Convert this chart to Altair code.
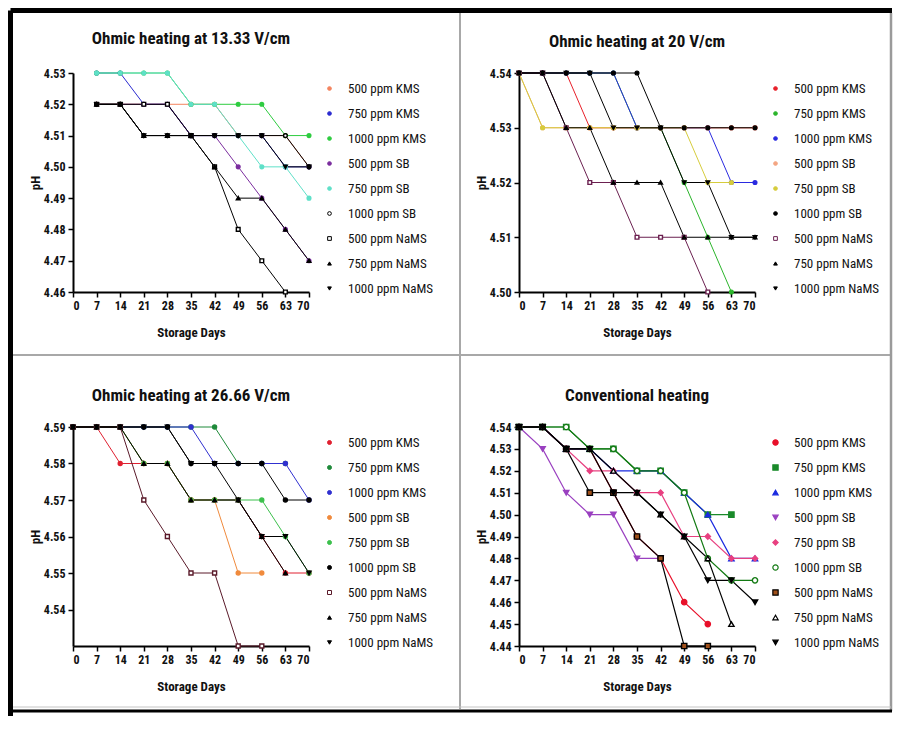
import altair as alt
import pandas as pd

FONT = "Liberation Sans Narrow, Arial Narrow, Roboto Condensed, DejaVu Sans Condensed, Roboto, sans-serif"

DAYS = [0, 7, 14, 21, 28, 35, 42, 49, 56, 63, 70]
SERIES = ["500 ppm KMS", "750 ppm KMS", "1000 ppm KMS", "500 ppm SB", "750 ppm SB",
          "1000 ppm SB", "500 ppm NaMS", "750 ppm NaMS", "1000 ppm NaMS"]
N = None

# Ohmic heating at 13.33 V/cm
oh13_kms500 = [N, 4.52, 4.52, 4.52, 4.52, 4.52, 4.52, 4.51, 4.51, 4.51, 4.50]
oh13_kms750 = [N, 4.53, 4.53, 4.52, 4.52, 4.51, 4.51, 4.51, 4.51, 4.50, 4.50]
oh13_kms1000 = [N, 4.53, 4.53, 4.53, 4.53, 4.52, 4.52, 4.52, 4.52, 4.51, 4.51]
oh13_sb500 = [N, 4.52, 4.52, 4.52, 4.52, 4.51, 4.51, 4.50, 4.49, 4.48, 4.47]
oh13_sb750 = [N, 4.53, 4.53, 4.53, 4.53, 4.52, 4.52, 4.51, 4.50, 4.50, 4.49]
oh13_sb1000 = [N, 4.52, 4.52, 4.51, 4.51, 4.51, 4.51, 4.51, 4.51, 4.51, 4.50]
oh13_nams500 = [N, 4.52, 4.52, 4.52, 4.52, 4.51, 4.50, 4.48, 4.47, 4.46, N]
oh13_nams750 = [N, 4.52, 4.52, 4.51, 4.51, 4.51, 4.50, 4.49, 4.49, 4.48, 4.47]
oh13_nams1000 = [N, 4.52, 4.52, 4.51, 4.51, 4.51, 4.51, 4.51, 4.51, 4.50, 4.50]

# Ohmic heating at 20 V/cm
oh20_kms500 = [4.54, 4.54, 4.54, 4.53, 4.53, 4.53, 4.53, 4.53, 4.53, 4.53, 4.53]
oh20_kms750 = [4.54, 4.54, 4.54, 4.54, 4.54, 4.53, 4.53, 4.52, 4.51, 4.50, N]
oh20_kms1000 = [4.54, 4.54, 4.54, 4.54, 4.54, 4.53, 4.53, 4.53, 4.53, 4.52, 4.52]
oh20_sb500 = [4.54, 4.53, 4.53, 4.53, 4.53, 4.53, 4.53, 4.53, 4.53, 4.53, 4.53]
oh20_sb750 = [4.54, 4.53, 4.53, 4.53, 4.53, 4.53, 4.53, 4.53, 4.52, 4.52, N]
oh20_sb1000 = [4.54, 4.54, 4.54, 4.54, 4.54, 4.54, 4.53, 4.53, 4.53, 4.53, 4.53]
oh20_nams500 = [4.54, 4.54, 4.53, 4.52, 4.52, 4.51, 4.51, 4.51, 4.50, N, N]
oh20_nams750 = [4.54, 4.54, 4.53, 4.53, 4.52, 4.52, 4.52, 4.51, 4.51, 4.51, 4.51]
oh20_nams1000 = [4.54, 4.54, 4.54, 4.54, 4.53, 4.53, 4.53, 4.52, 4.52, 4.51, 4.51]

# Ohmic heating at 26.66 V/cm
oh26_kms500 = [4.59, 4.59, 4.58, 4.58, 4.58, 4.57, 4.57, 4.57, 4.56, 4.55, 4.55]
oh26_kms750 = [4.59, 4.59, 4.59, 4.59, 4.59, 4.59, 4.59, 4.58, 4.58, 4.58, N]
oh26_kms1000 = [4.59, 4.59, 4.59, 4.59, 4.59, 4.59, 4.58, 4.58, 4.58, 4.58, 4.57]
oh26_sb500 = [4.59, 4.59, 4.59, 4.58, 4.58, 4.57, 4.57, 4.55, 4.55, N, N]
oh26_sb750 = [4.59, 4.59, 4.59, 4.58, 4.58, 4.57, 4.57, 4.57, 4.57, 4.56, 4.55]
oh26_sb1000 = [4.59, 4.59, 4.59, 4.59, 4.59, 4.58, 4.58, 4.58, 4.58, 4.57, 4.57]
oh26_nams500 = [4.59, 4.59, 4.59, 4.57, 4.56, 4.55, 4.55, 4.53, 4.53, N, N]
oh26_nams750 = [4.59, 4.59, 4.59, 4.58, 4.58, 4.57, 4.57, 4.57, 4.56, 4.55, N]
oh26_nams1000 = [4.59, 4.59, 4.59, 4.59, 4.59, 4.58, 4.58, 4.57, 4.56, 4.56, 4.55]

# Conventional heating
conv_kms500 = [4.54, 4.54, 4.53, 4.53, 4.51, 4.49, 4.48, 4.46, 4.45, N, N]
conv_kms750 = [4.54, 4.54, 4.54, 4.53, 4.53, 4.52, 4.52, 4.51, 4.50, 4.50, N]
conv_kms1000 = [4.54, 4.54, 4.53, 4.53, 4.52, 4.52, 4.52, 4.51, 4.50, 4.48, 4.48]
conv_sb500 = [4.54, 4.53, 4.51, 4.50, 4.50, 4.48, 4.48, N, N, N, N]
conv_sb750 = [4.54, 4.54, 4.53, 4.52, 4.52, 4.51, 4.51, 4.49, 4.49, 4.48, 4.48]
conv_sb1000 = [4.54, 4.54, 4.54, 4.53, 4.53, 4.52, 4.52, 4.51, 4.48, 4.47, 4.47]
conv_nams500 = [4.54, 4.54, 4.53, 4.51, 4.51, 4.49, 4.48, 4.44, 4.44, N, N]
conv_nams750 = [4.54, 4.54, 4.53, 4.53, 4.52, 4.51, 4.50, 4.49, 4.48, 4.45, N]
conv_nams1000 = [4.54, 4.54, 4.53, 4.53, 4.51, 4.51, 4.50, 4.49, 4.47, 4.47, 4.46]

TITLES = ["Ohmic heating at 13.33 V/cm", "Ohmic heating at 20 V/cm",
          "Ohmic heating at 26.66 V/cm", "Conventional heating"]
X_TICKS = [0, 7, 14, 21, 28, 35, 42, 49, 56, 63, 70]

W, H = 236, 219


def panel_df(values):
    rows = []
    for name, vals in zip(SERIES, values):
        for d, v in zip(DAYS, vals):
            if v is not None:
                rows.append({"series": name, "day": d, "ph": v})
    return pd.DataFrame(rows)


def make_panel(title, df, ydom, yticks, colors, fills, shapes, sizes, widths,
               extra=None, title_offset=16):
    legend = alt.Legend(title=None, orient="none", legendX=W + 14, legendY=9,
                        symbolSize=42, symbolStrokeWidth=1.5, labelFontSize=13,
                        labelFont=FONT, labelColor="#111", rowPadding=11,
                        labelOffset=12, labelLimit=200)
    x = alt.X("day:Q", scale=alt.Scale(domain=[0, 70], nice=False, zero=False),
              axis=alt.Axis(values=X_TICKS, title="Storage Days", format="d"))
    y = alt.Y("ph:Q", scale=alt.Scale(domain=ydom, nice=False, zero=False),
              axis=alt.Axis(values=yticks, format=".2f", title="pH"))
    stroke = alt.Stroke("series:N", scale=alt.Scale(domain=SERIES, range=colors), legend=legend)
    base = alt.Chart(df)
    lines = base.mark_line(opacity=1).encode(
        x=x, y=y,
        stroke=stroke,
        strokeWidth=alt.StrokeWidth("series:N", scale=alt.Scale(domain=SERIES, range=widths), legend=None),
    )
    points = base.mark_point(opacity=1, strokeWidth=1.4).encode(
        x=x, y=y,
        stroke=stroke,
        fill=alt.Fill("series:N", scale=alt.Scale(domain=SERIES, range=fills), legend=legend),
        shape=alt.Shape("series:N", scale=alt.Scale(domain=SERIES, range=shapes), legend=legend),
        size=alt.Size("series:N", scale=alt.Scale(domain=SERIES, range=sizes), legend=None),
    )
    layers = [lines, points]
    if extra:
        layers = extra + layers
    return alt.layer(*layers).properties(
        width=W, height=H,
        title=alt.TitleParams(title, fontSize=17, fontWeight="bold", font=FONT,
                              anchor="middle", frame="group", offset=title_offset,
                              color="#111"))


# decorative frame (pixel offsets relative to first panel's plot area)
frame_df = pd.DataFrame({"k": [0]})


def vrule(xp, y1, y2, color, sw):
    return alt.Chart(frame_df).mark_rule(color=color, strokeWidth=sw).encode(
        x=alt.value(xp), y=alt.value(y1), y2=alt.value(y2))


def hrule(yp, x1, x2, color, sw):
    return alt.Chart(frame_df).mark_rule(color=color, strokeWidth=sw).encode(
        y=alt.value(yp), x=alt.value(x1), x2=alt.value(x2))


frame = [
    vrule(387, -60, 636, "#a8a8a8", 2),
    hrule(282, -60, 818, "#a8a8a8", 2),
    vrule(818, -60, 638, "#9a9a9a", 2.5),
    hrule(634, -60, 818, "#c4c4c4", 1),
    hrule(638, -62.5, 819, "#000", 3),
    vrule(-62.5, -62.5, 643, "#000", 5),
    hrule(-62.5, -62.5, 819, "#000", 5),
]

p1 = make_panel(
    TITLES[0],
    panel_df([oh13_kms500, oh13_kms750, oh13_kms1000, oh13_sb500, oh13_sb750,
              oh13_sb1000, oh13_nams500, oh13_nams750, oh13_nams1000]),
    [4.46, 4.53], [4.46, 4.47, 4.48, 4.49, 4.50, 4.51, 4.52, 4.53],
    ["#f4845f", "#2b2bd0", "#2ecc40", "#7b2d9e", "#5fe0c8", "#000", "#000", "#000", "#000"],
    ["#f4845f", "#2b2bd0", "#2ecc40", "#7b2d9e", "#5fe0c8", "#fff", "#fff", "#000", "#000"],
    ["circle", "circle", "circle", "circle", "circle", "circle", "square", "triangle-up", "triangle-down"],
    [14, 14, 14, 14, 14, 40, 40, 40, 40],
    [1, 1, 1, 1, 1, 1.5, 1.5, 1.5, 1.5],
    extra=frame, title_offset=-40,
)

p2 = make_panel(
    TITLES[1],
    panel_df([oh20_kms500, oh20_kms750, oh20_kms1000, oh20_sb500, oh20_sb750,
              oh20_sb1000, oh20_nams500, oh20_nams750, oh20_nams1000]),
    [4.50, 4.54], [4.50, 4.51, 4.52, 4.53, 4.54],
    ["#e8202a", "#2bb52b", "#2a2ae0", "#f4a582", "#d6cc3c", "#000", "#6b2050", "#000", "#000"],
    ["#e8202a", "#2bb52b", "#2a2ae0", "#f4a582", "#d6cc3c", "#000", "#fff", "#000", "#000"],
    ["circle", "circle", "circle", "circle", "circle", "circle", "square", "triangle-up", "triangle-down"],
    [14, 14, 14, 14, 14, 60, 55, 55, 55],
    [1, 1, 1, 1, 1, 1.5, 1.5, 1.5, 1.5],
)

p3 = make_panel(
    TITLES[2],
    panel_df([oh26_kms500, oh26_kms750, oh26_kms1000, oh26_sb500, oh26_sb750,
              oh26_sb1000, oh26_nams500, oh26_nams750, oh26_nams1000]),
    [4.53, 4.59], [4.54, 4.55, 4.56, 4.57, 4.58, 4.59],
    ["#e02030", "#1f8a3a", "#3030d0", "#f08a3c", "#3cc04c", "#000", "#5a1a2a", "#000", "#000"],
    ["#e02030", "#1f8a3a", "#3030d0", "#f08a3c", "#3cc04c", "#000", "#fff", "#000", "#000"],
    ["circle", "circle", "circle", "circle", "circle", "circle", "square", "triangle-up", "triangle-down"],
    [16, 16, 16, 16, 16, 55, 55, 55, 55],
    [1, 1, 1, 1, 1, 1.5, 1.5, 1.5, 1.5],
)

p4 = make_panel(
    TITLES[3],
    panel_df([conv_kms500, conv_kms750, conv_kms1000, conv_sb500, conv_sb750,
              conv_sb1000, conv_nams500, conv_nams750, conv_nams1000]),
    [4.44, 4.54], [4.44, 4.45, 4.46, 4.47, 4.48, 4.49, 4.50, 4.51, 4.52, 4.53, 4.54],
    ["#e8102a", "#1a8a2a", "#1a2ae0", "#9a40c0", "#e84080", "#137a13", "#000", "#000", "#000"],
    ["#e8102a", "#1a8a2a", "#1a2ae0", "#9a40c0", "#e84080", "#fff", "#a0501a", "#fff", "#000"],
    ["circle", "square", "triangle-up", "triangle-down", "diamond", "circle", "square", "triangle-up", "triangle-down"],
    [28, 28, 28, 28, 28, 55, 55, 55, 55],
    [1.2, 1.2, 1.2, 1.2, 1.2, 1.5, 1.5, 1.5, 1.5],
)

chart = alt.concat(
    p1, p2, p3, p4, columns=2, spacing={"row": 135, "column": 210},
    bounds="flush", padding=0,
).resolve_scale(
    stroke="independent", fill="independent", shape="independent",
    size="independent", strokeWidth="independent",
).configure_view(stroke=None).configure_axis(
    domainColor="#000", domainWidth=2, tickColor="#000", tickWidth=1.5, tickSize=5,
    labelFont=FONT, labelFontSize=12, labelFontWeight="bold", labelColor="#111",
    titleFont=FONT, titleFontSize=13, titleFontWeight="bold", titleColor="#111",
    grid=False, labelPadding=3,
).configure_axisX(titlePadding=15).configure_axisY(titlePadding=1).properties(
    background="white")

chart.save("out.html", embed_options={"renderer": "svg", "actions": False})
